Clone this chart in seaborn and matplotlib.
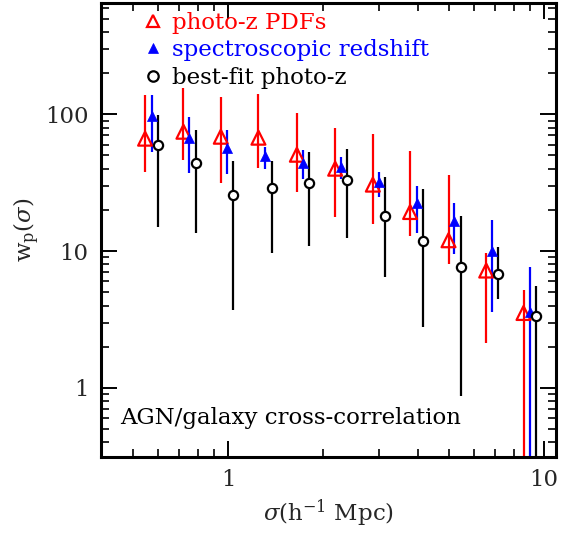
import numpy as np
import pandas as pd
import matplotlib
matplotlib.use("Agg")
import matplotlib.pyplot as plt
from matplotlib.lines import Line2D
from matplotlib.ticker import FuncFormatter, NullFormatter, LogLocator
import seaborn as sns

# ---- data ----
# photo-z PDFs (red open triangles)
pdf_sigma = [0.546, 0.722, 0.948, 1.247, 1.650, 2.181, 2.870, 3.766, 4.981, 6.556, 8.602]
pdf_wp    = [66.3, 74.5, 68.5, 67.4, 50.6, 40.0, 30.6, 19.3, 12.0, 7.21, 3.53]
pdf_hi    = [137.6, 156.6, 133.8, 140.0, 102.2, 79.4, 72.3, 54.0, 35.9, 9.67, 5.19]
pdf_lo    = [37.9, 46.2, 31.7, 40.6, 27.1, 17.8, 15.9, 12.9, 8.04, 2.13, 0.05]

# spectroscopic redshift (blue filled triangles)
spec_sigma = [0.574, 0.754, 0.991, 1.310, 1.724, 2.274, 2.999, 3.956, 5.202, 6.862, 9.031]
spec_wp    = [97.5, 67.4, 56.9, 49.8, 44.3, 41.4, 31.9, 22.4, 16.7, 10.0, 3.62]
spec_hi    = [137.6, 95.6, 76.4, 57.7, 54.6, 48.8, 37.9, 29.8, 22.5, 17.0, 7.64]
spec_lo    = [53.1, 37.3, 36.5, 39.7, 33.4, 33.4, 24.9, 13.6, 9.51, 3.61, 0.05]

# best-fit photo-z (black open circles)
best_sigma = [0.599, 0.790, 1.039, 1.375, 1.808, 2.385, 3.140, 4.133, 5.450, 7.169, 9.434]
best_wp    = [59.4, 44.1, 25.9, 29.0, 31.2, 33.0, 18.0, 11.9, 7.68, 6.79, 3.35]
best_hi    = [98.3, 77.3, 45.6, 45.6, 53.1, 55.5, 34.9, 28.2, 18.0, 10.7, 5.60]
best_lo    = [14.9, 13.5, 3.71, 9.62, 10.9, 12.4, 6.49, 2.77, 0.879, 4.44, 0.05]

labels = ["photo-z PDFs", "spectroscopic redshift", "best-fit photo-z"]
annotation = "AGN/galaxy cross-correlation"

# ---- style ----
sns.set_theme(style="white")
plt.rcParams["font.family"] = ["DejaVu Serif", "DejaVu Sans"]
plt.rcParams["mathtext.fontset"] = "dejavuserif"

FS = 16.5

fig = plt.figure(figsize=(5.69, 5.35), dpi=100)
ax = fig.add_axes([101 / 569, 1 - 457 / 535, 455 / 569, 454 / 535])

series = [
    (pdf_sigma, pdf_wp, pdf_hi, pdf_lo, "#ff0000", "^", True, 100),
    (spec_sigma, spec_wp, spec_hi, spec_lo, "#0000ff", "^", False, 52),
    (best_sigma, best_wp, best_hi, best_lo, "black", "o", True, 44),
]

for (xs, ys, hi, lo, col, mk, hollow, s) in series:
    xs = np.array(xs); ys = np.array(ys); hi = np.array(hi); lo = np.array(lo)
    ax.errorbar(xs, ys, yerr=[ys - lo, hi - ys], fmt="none", ecolor=col,
                elinewidth=1.6, capsize=0, zorder=2)
    df = pd.DataFrame({"sigma": xs, "wp": ys})
    if hollow:
        sns.scatterplot(data=df, x="sigma", y="wp", ax=ax, marker=mk, s=s,
                        facecolors="white" if mk == "o" else "none",
                        edgecolors=col, linewidth=1.6, zorder=3, legend=False)
    else:
        sns.scatterplot(data=df, x="sigma", y="wp", ax=ax, marker=mk, s=s,
                        color=col, edgecolor=col, linewidth=0.5, zorder=3,
                        legend=False)

ax.set_xscale("log")
ax.set_yscale("log")
ax.set_xlim(0.396, 10.9)
ax.set_ylim(0.313, 650)

fmt = FuncFormatter(lambda v, p: "%g" % v)
ax.xaxis.set_major_locator(LogLocator(base=10))
ax.yaxis.set_major_locator(LogLocator(base=10))
ax.xaxis.set_minor_locator(LogLocator(base=10, subs=np.arange(2, 10)))
ax.yaxis.set_minor_locator(LogLocator(base=10, subs=np.arange(2, 10)))
ax.xaxis.set_major_formatter(fmt)
ax.yaxis.set_major_formatter(fmt)
ax.xaxis.set_minor_formatter(NullFormatter())
ax.yaxis.set_minor_formatter(NullFormatter())

ax.tick_params(which="both", direction="in", top=True, right=True,
               bottom=True, left=True, color="black")
ax.tick_params(which="major", length=11.5, width=1.4, labelsize=FS, pad=9)
ax.tick_params(which="minor", length=5.8, width=1.2)
for sp in ax.spines.values():
    sp.set_linewidth(2.2)
    sp.set_color("black")

ax.set_xlabel(r"$\sigma$(h$^{-1}$ Mpc)", fontsize=FS, labelpad=4)
ax.set_ylabel(r"w$_{\rm p}$($\sigma$)", fontsize=FS, labelpad=2)

ax.text(0.042, 0.073, annotation, transform=ax.transAxes, fontsize=FS,
        ha="left", va="baseline", color="black")

handles = [
    Line2D([], [], ls="none", marker="^", ms=9, mfc="none", mec="#ff0000", mew=1.6),
    Line2D([], [], ls="none", marker="^", ms=7, mfc="#0000ff", mec="#0000ff", mew=0.5),
    Line2D([], [], ls="none", marker="o", ms=7.5, mfc="none", mec="black", mew=1.6),
]
leg = ax.legend(handles, labels, loc="upper left", bbox_to_anchor=(0.089, 0.981),
                frameon=False, prop={"size": FS},
                handlelength=1.0, handletextpad=0.35,
                labelspacing=0.24, borderpad=0, borderaxespad=0,
                labelcolor=["#ff0000", "#0000ff", "black"])

fig.savefig("out.png", dpi=100)
